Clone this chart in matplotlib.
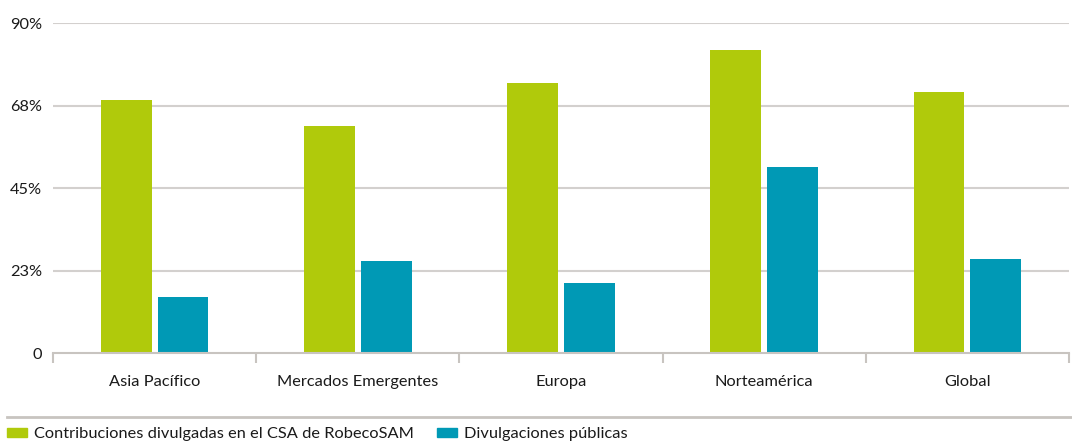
import matplotlib
matplotlib.use("Agg")
import matplotlib.pyplot as plt
from matplotlib.patches import Rectangle
from matplotlib.lines import Line2D
import numpy as np

categories = ["Asia Pacífico", "Mercados Emergentes", "Europa", "Norteamérica", "Global"]
csa_values = [69.1, 62.0, 73.7, 82.7, 71.2]
public_values = [15.3, 25.1, 19.1, 50.8, 25.7]
series_names = ["Contribuciones divulgadas en el CSA de RobecoSAM", "Divulgaciones públicas"]
y_ticks = [0, 22.5, 45, 67.5, 90]
y_tick_labels = ["0", "23%", "45%", "68%", "90%"]

green = "#b0ca0b"
blue = "#0099b5"
grid_col = "#d3d0ce"
axis_col = "#c8c4c0"
text_col = "#1a1a1a"

plt.rcParams['font.family'] = ['Lato', 'DejaVu Sans']
fs = 11.8

W, H = 1072, 444
fig = plt.figure(figsize=(W/100, H/100), dpi=100)
ax = fig.add_axes([53/W, 1-353/H, (1069-53)/W, (353-23.3)/H])

x = np.arange(len(categories))
bw = 0.25
ax.bar(x - 0.14, csa_values, bw, color=green, zorder=3)
ax.bar(x + 0.14, public_values, bw, color=blue, zorder=3)

ax.set_xlim(-0.5, len(categories) - 0.5)
ax.set_ylim(0, 90)
ax.set_yticks(y_ticks)
ax.set_yticklabels(y_tick_labels)
ax.tick_params(axis='y', length=0, pad=8, labelsize=fs, labelcolor=text_col)
for yv in y_ticks[1:]:
    ax.axhline(yv, color=grid_col, lw=1.5, zorder=1)

ax.set_xticks(np.arange(-0.5, len(categories), 1.0))
ax.set_xticklabels([])
ax.tick_params(axis='x', which='major', length=7, width=1.5, color=axis_col, direction='out')
ax.set_xticks(x, minor=True)
ax.set_xticklabels(categories, minor=True)
ax.tick_params(axis='x', which='minor', length=0, pad=16, labelsize=fs, labelcolor=text_col)

for s in ['top', 'right', 'left']:
    ax.spines[s].set_visible(False)
ax.spines['bottom'].set_color(axis_col)
ax.spines['bottom'].set_linewidth(1.5)
ax.spines['bottom'].set_zorder(4)

# separator line
fig.add_artist(Line2D([7/W, 1.0], [1-417/H, 1-417/H], color=axis_col, lw=2))

handles = [Rectangle((0, 0), 1, 1, color=green), Rectangle((0, 0), 1, 1, color=blue)]
fig.legend(handles, series_names, loc='center left', bbox_to_anchor=(7/W, 1-434/H),
           ncol=2, frameon=False, fontsize=fs, handlelength=1.22, handleheight=0.5,
           handletextpad=0.43, columnspacing=1.4, borderaxespad=0, borderpad=0.0,
           labelcolor=text_col)

fig.savefig("out.png", dpi=100)
